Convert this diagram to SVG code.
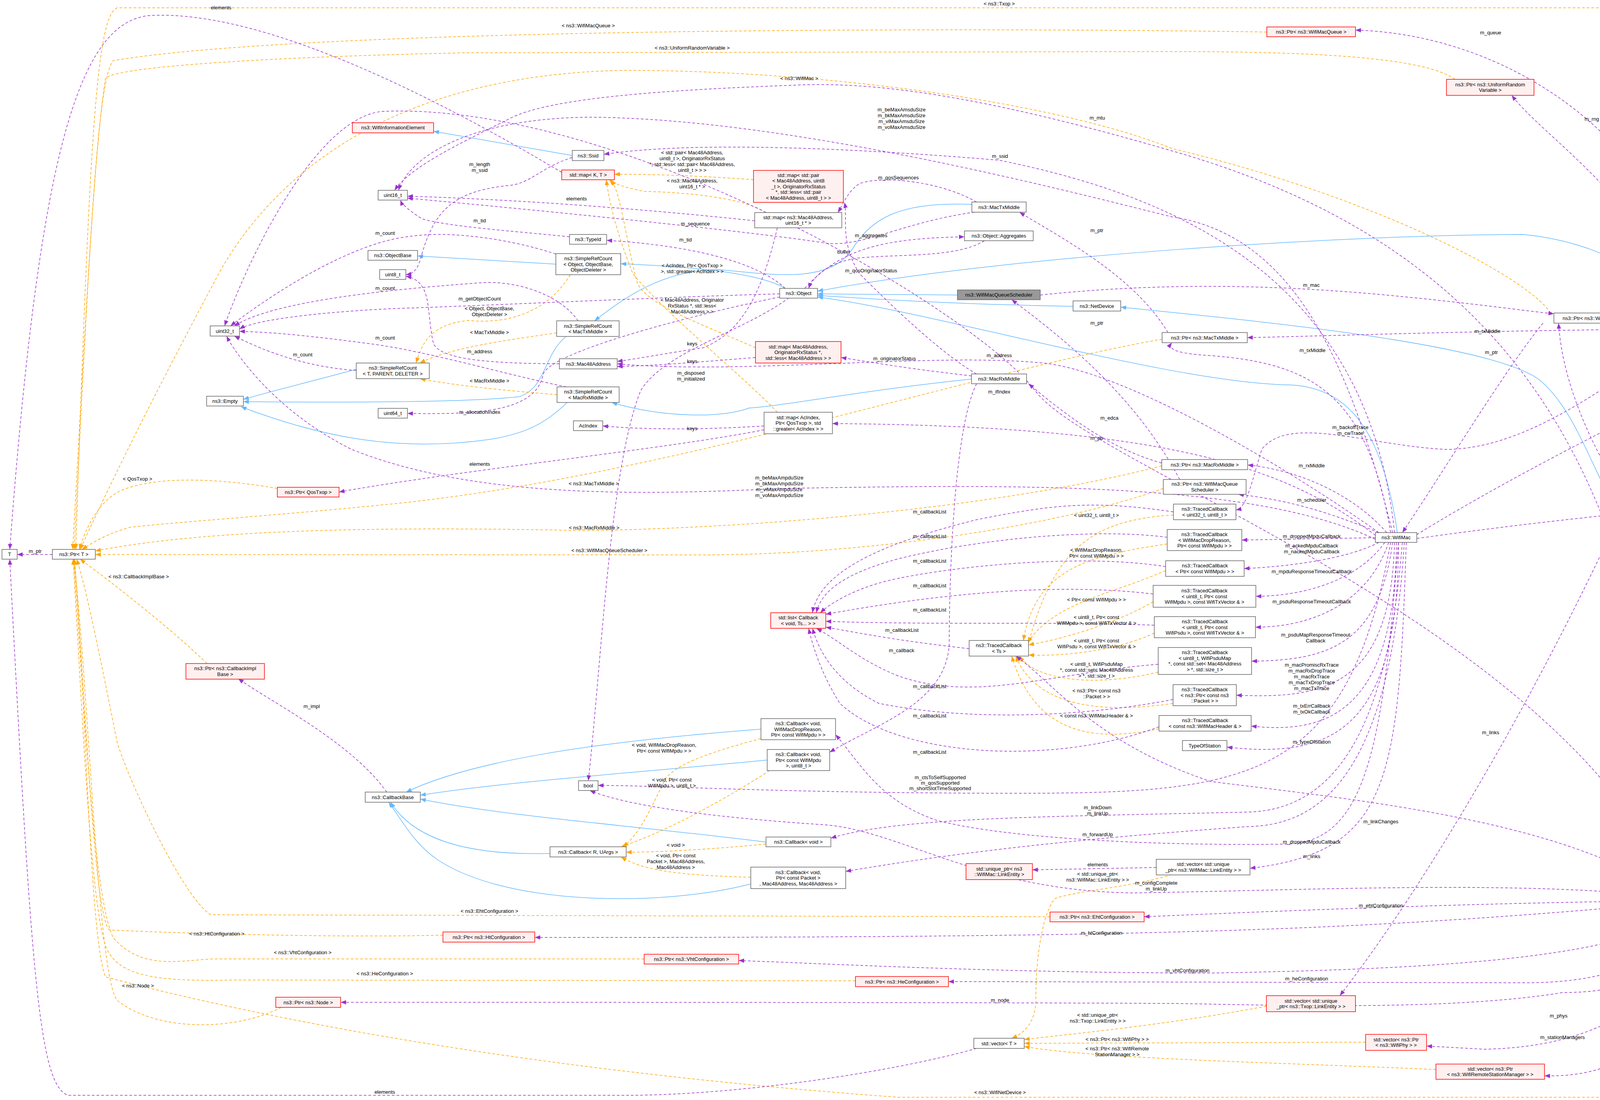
<svg xmlns="http://www.w3.org/2000/svg" width="4749" height="2815" viewBox="0 0 4749 2815">
<style>
.n{fill:#fff;stroke:#666;stroke-width:1.5}
.r{fill:#fff0f0;stroke:#f00;stroke-width:1.5}
.g{fill:#999;stroke:#666;stroke-width:1.5}
text{font-family:"Liberation Sans",Arial,sans-serif;font-size:13px;text-anchor:middle;fill:#000}
.p{fill:none;stroke:#9a32cd;stroke-width:1.5;stroke-dasharray:7,5;marker-end:url(#mp)}
.o{fill:none;stroke:#ffa500;stroke-width:1.5;stroke-dasharray:7,5;marker-end:url(#mo)}
.b{fill:none;stroke:#63b8ff;stroke-width:1.5;marker-end:url(#mb)}
</style>
<defs>
<marker id="mp" markerUnits="userSpaceOnUse" markerWidth="15" markerHeight="11" refX="14" refY="5.5" orient="auto"><path d="M0,0 L14,5.5 L0,11 z" fill="#9a32cd"/></marker>
<marker id="mo" markerUnits="userSpaceOnUse" markerWidth="15" markerHeight="11" refX="14" refY="5.5" orient="auto"><path d="M0,0 L14,5.5 L0,11 z" fill="#ffa500"/></marker>
<marker id="mb" markerUnits="userSpaceOnUse" markerWidth="15" markerHeight="11" refX="14" refY="5.5" orient="auto"><path d="M0,0 L14,5.5 L0,11 z" fill="#63b8ff"/></marker>
</defs>
<rect width="4749" height="2815" fill="#fff"/>
<g id="connectors">
<path class="b" d="M1465,398 L1110,336"/>
<path class="b" d="M1423,676 L1069,655"/>
<path class="b" d="M912,945 C800,975 700,1000 623,1022"/>
<path class="b" d="M1449,861 C1390,910 1400,990 1330,1015 C1200,1030 900,1030 623,1028"/>
<path class="b" d="M1452,1030 C1400,1080 1350,1110 1250,1125 C1000,1160 800,1110 617,1041"/>
<path class="b" d="M2010,738 C1930,690 1700,680 1589,675"/>
<path class="b" d="M2488,523 C2300,515 2230,560 2180,640 C2120,730 1960,700 1840,690 C1700,690 1600,760 1522,821"/>
<path class="b" d="M2487,970 C2200,1000 2000,1040 1918,1044 C1850,1070 1700,1070 1566,1030"/>
<path class="b" d="M2451,755 L2093,752"/>
<path class="b" d="M2747,784 C2500,780 2300,770 2093,756"/>
<path class="b" d="M4335,827 C4200,650 4000,610 3900,600 C3500,600 2600,650 2093,745"/>
<path class="b" d="M3577,1363 C3540,1100 3450,990 3300,985 C3000,980 2400,800 2093,760"/>
<path class="b" d="M4346,2291 C4350,1900 4330,1550 4200,1380 C4100,1300 4060,1080 3950,980 C3850,880 3200,820 2869,786"/>
<path class="b" d="M1948,1866 C1500,1900 1200,1950 1040,2027"/>
<path class="b" d="M1964,1945 C1600,1980 1300,2000 1076,2035"/>
<path class="b" d="M1961,2155 C1600,2110 1300,2090 1076,2045"/>
<path class="b" d="M1408,2184 C1200,2190 1060,2150 1000,2053"/>
<path class="b" d="M1922,2262 C1700,2320 1300,2320 1120,2200 C1060,2160 1030,2100 995,2053"/>

<path class="o" d="M4630,827 C4600,400 4500,20 4380,20 L300,20 C250,40 230,300 194,1406"/>
<path class="o" d="M3243,82 C2500,70 800,70 290,155 C250,200 230,600 190,1406"/>
<path class="o" d="M3725,203 C3650,150 3400,132 3000,132 L1200,135 C700,145 300,170 270,200 C240,400 220,800 186,1406"/>
<path class="o" d="M3970,801 C3900,700 3500,500 3000,380 C2700,260 2100,180 1600,180 C1000,190 700,450 560,700 C400,1000 300,1200 205,1406"/>
<path class="o" d="M710,1250 C600,1230 400,1210 300,1260 C250,1290 220,1350 203,1406"/>
<path class="o" d="M2975,868 C2500,950 1700,1220 1000,1290 C700,1320 400,1340 330,1350 C280,1365 250,1380 210,1406"/>
<path class="o" d="M2974,1192 C2600,1290 2000,1350 1500,1358 C900,1345 500,1360 244,1410"/>
<path class="o" d="M2978,1250 C2700,1350 2200,1420 1800,1420 L244,1419"/>
<path class="o" d="M530,1698 C450,1620 300,1500 205,1431"/>
<path class="o" d="M2688,2346 L540,2341 C470,2300 330,2000 300,1900 C260,1700 220,1500 196,1431"/>
<path class="o" d="M1134,2393 C900,2400 500,2390 280,2380 C240,2340 220,1800 190,1431"/>
<path class="o" d="M1649,2454 L540,2454 C450,2460 360,2480 290,2400 C240,2300 215,1800 188,1431"/>
<path class="o" d="M2190,2510 L600,2508 C400,2512 300,2500 270,2420 C230,2300 210,1800 187,1431"/>
<path class="o" d="M720,2578 C600,2640 400,2640 300,2560 C250,2500 230,1800 189,1431"/>
<path class="o" d="M4630,2317 C4600,2600 4450,2808 4200,2808 L2300,2808 C1500,2750 800,2640 270,2500 C230,2400 220,1800 191,1431"/>
<path class="o" d="M1929,460 C1800,450 1650,445 1573,446"/>
<path class="o" d="M1960,544 C1900,500 1700,490 1650,490 C1600,480 1570,470 1560,460"/>
<path class="o" d="M1990,1055 C1900,960 1700,800 1620,700 C1580,600 1560,520 1552,460"/>
<path class="o" d="M1934,890 C1800,830 1650,780 1630,720 C1600,600 1590,500 1565,460"/>
<path class="o" d="M1460,703 C1400,800 1300,830 1200,820 C1100,830 1080,880 1065,929"/>
<path class="o" d="M1425,852 C1300,870 1150,890 1075,929"/>
<path class="o" d="M1426,1010 C1300,1000 1150,985 1075,969"/>
<path class="o" d="M3004,1318 C2800,1330 2700,1400 2633,1645"/>
<path class="o" d="M2988,1392 C2800,1420 2650,1450 2620,1639"/>
<path class="o" d="M2984,1460 C2850,1520 2700,1540 2630,1645"/>
<path class="o" d="M2952,1540 C2850,1600 2700,1640 2633,1650"/>
<path class="o" d="M2955,1620 C2850,1670 2700,1680 2633,1676"/>
<path class="o" d="M2965,1720 C2800,1760 2650,1740 2610,1679"/>
<path class="o" d="M3003,1800 C2800,1830 2650,1800 2600,1679"/>
<path class="o" d="M2967,1865 C2800,1900 2650,1880 2590,1679"/>
<path class="o" d="M1948,1890 C1800,1930 1720,1960 1700,2000 C1660,2080 1640,2130 1595,2167"/>
<path class="o" d="M1970,1972 C1850,2050 1700,2130 1590,2167"/>
<path class="o" d="M1961,2160 C1800,2175 1700,2180 1603,2181"/>
<path class="o" d="M1922,2245 C1750,2240 1650,2230 1590,2193"/>
<path class="o" d="M3000,2238 C2900,2270 2750,2280 2700,2300 C2660,2350 2650,2500 2652,2560 C2650,2620 2620,2645 2590,2657"/>
<path class="o" d="M3242,2575 C3000,2620 2800,2640 2622,2660"/>
<path class="o" d="M3496,2667 L2622,2670"/>
<path class="o" d="M3676,2737 C3300,2720 2800,2710 2622,2678"/>

<path class="p" d="M134,1419 L44,1419"/>
<path class="p" d="M1438,441 C1200,300 700,20 380,40 C200,60 100,400 25,1406"/>
<path class="p" d="M2500,2683 C2300,2740 1900,2803 1600,2803 L175,2803 C100,2780 80,2500 25,1431"/>
<path class="p" d="M1465,403 C1380,430 1360,470 1300,475 C1150,490 1110,550 1080,650 C1070,690 1060,700 1039,703"/>
<path class="p" d="M1458,606 C1300,590 1150,580 1080,560 C1050,540 1030,525 1025,512"/>
<path class="p" d="M1423,650 C1300,610 1150,590 1050,605 C900,620 700,750 590,834"/>
<path class="p" d="M1480,821 C1430,750 1320,720 1240,723 C1000,740 700,770 600,834"/>
<path class="p" d="M1996,752 C1700,760 1300,780 1000,790 C800,800 650,820 613,842"/>
<path class="p" d="M912,948 C800,940 700,910 600,860"/>
<path class="p" d="M1450,990 C1300,960 1100,900 950,880 C800,860 700,850 613,848"/>
<path class="p" d="M1432,931 C1250,930 1130,920 1110,880 C1090,800 1110,720 1039,707"/>
<path class="p" d="M1932,565 C1600,530 1300,510 1043,502"/>
<path class="p" d="M2495,543 C2300,570 2200,640 2100,620 C1900,590 1400,540 1043,507"/>
<path class="p" d="M2500,517 C2400,460 2250,450 2200,470 C2170,490 2160,520 2145,544"/>
<path class="p" d="M2010,738 C1950,680 1800,630 1553,615"/>
<path class="p" d="M2060,738 C2150,640 2250,610 2469,606"/>
<path class="p" d="M2520,616 C2450,660 2300,650 2200,660 C2120,670 2080,710 2070,738"/>
<path class="p" d="M2020,762 C1900,850 1700,900 1640,1000 C1560,1200 1540,1700 1506,1998"/>
<path class="p" d="M2487,962 C2300,940 2250,930 2153,915"/>
<path class="p" d="M2500,957 C2400,900 2250,750 2200,700 C2150,620 2170,560 2162,518"/>
<path class="p" d="M1934,915 C1800,925 1700,935 1580,938"/>
<path class="p" d="M1990,583 C1950,750 1900,850 1800,890 C1700,905 1650,915 1580,925"/>
<path class="p" d="M1956,1090 C1800,1100 1650,1100 1543,1090"/>
<path class="p" d="M1956,1100 C1700,1150 1200,1200 868,1259"/>
<path class="p" d="M3530,1363 C3300,1200 2900,960 2680,930 C2400,900 1900,960 1580,931"/>
<path class="p" d="M4290,2291 C4000,1600 2800,1200 2650,1000 C2500,800 1600,260 980,285 C800,300 620,700 575,834"/>
<path class="p" d="M2974,1185 C2850,1150 2750,1080 2633,982"/>
<path class="p" d="M3521,1370 C3300,1200 3000,1090 2131,1084"/>
<path class="p" d="M3550,1363 C3450,1250 3300,1200 3194,1190"/>
<path class="p" d="M3530,1363 C3400,1310 3300,1280 3170,1265"/>
<path class="p" d="M3521,1376 L3179,1382"/>
<path class="p" d="M3530,1388 C3450,1430 3300,1450 3185,1455"/>
<path class="p" d="M3545,1388 C3480,1480 3350,1525 3215,1526"/>
<path class="p" d="M3555,1388 C3500,1550 3350,1605 3214,1605"/>
<path class="p" d="M3565,1388 C3530,1650 3400,1690 3204,1692"/>
<path class="p" d="M3570,1388 C3560,1750 3400,1790 3165,1779"/>
<path class="p" d="M3575,1388 C3570,1820 3400,1880 3203,1858"/>
<path class="p" d="M3580,1388 C3580,1880 3400,1940 3141,1912"/>
<path class="p" d="M4310,853 C4100,1000 3900,1150 3700,1150 C3500,1140 3300,1060 3230,1150 C3200,1250 3190,1300 3164,1305"/>
<path class="p" d="M2663,755 C3000,720 3300,730 3600,760 C3800,780 3900,795 3978,803"/>
<path class="p" d="M4308,835 L4164,818"/>
<path class="p" d="M4308,842 C3800,845 3400,860 3193,864"/>
<path class="p" d="M4548,840 L4395,840"/>
<path class="p" d="M4350,827 C4300,400 3900,90 3470,77"/>
<path class="p" d="M4340,827 C4200,500 3950,350 3870,244"/>
<path class="p" d="M3560,1363 C3500,1000 3350,930 3100,910 C3000,905 2990,890 3000,877"/>
<path class="p" d="M2990,851 C2900,700 2700,600 2610,543"/>
<path class="p" d="M3950,827 C3850,950 3700,1200 3590,1363"/>
<path class="p" d="M3020,1227 C2900,1000 2700,850 2590,767"/>
<path class="p" d="M3570,1363 C3500,700 3000,500 2558,410 C2200,380 1777,360 1546,395"/>
<path class="p" d="M3565,1363 C3450,900 3300,600 3000,555 C2700,480 2000,300 1500,300 C1200,305 1050,400 1020,487"/>
<path class="p" d="M3521,1380 C3200,1230 2600,1240 2000,1250 C1600,1270 1200,1270 900,1150 C700,1050 600,900 580,860"/>
<path class="p" d="M4320,2291 C4200,1500 4100,700 3000,386 C2600,270 2300,210 2059,217 C1700,230 1400,250 1300,306 C1150,380 1050,430 1010,487"/>
<path class="p" d="M3627,1368 C3900,1200 4300,1000 4630,853"/>
<path class="p" d="M3627,1378 C3900,1340 4100,1320 4180,1312 C4350,1350 4600,1800 4630,2291"/>
<path class="p" d="M4370,2291 C4340,1800 4250,1400 4200,1330 C4100,1200 4000,1000 3990,827"/>
<path class="p" d="M3580,1388 C3540,1900 3500,2150 3300,2160 C3000,2165 2600,2150 2400,2100 C2250,2050 2200,1950 2139,1880"/>
<path class="p" d="M2500,982 C2440,1100 2430,1500 2430,1650 C2420,1800 2250,1850 2124,1925"/>
<path class="p" d="M3560,1388 C3450,2000 3200,2030 2600,2030 C2000,2030 1700,2010 1531,2010"/>
<path class="p" d="M4279,2297 C3900,2250 3300,2280 2900,2285 C2500,2280 2300,2120 2100,2110 C1800,2090 1600,2060 1510,2023"/>
<path class="p" d="M3590,1388 C3550,1900 3400,2070 3200,2078 C2700,2090 2300,2090 2127,2145"/>
<path class="p" d="M3595,1388 C3560,1950 3400,2110 3200,2115 C2700,2150 2400,2190 2165,2230"/>
<path class="p" d="M3600,1388 C3580,2000 3560,2180 3200,2222"/>
<path class="p" d="M2960,2220 L2643,2226"/>
<path class="p" d="M4279,2305 C3800,2310 3300,2330 2929,2346"/>
<path class="p" d="M4279,2310 C3500,2380 3000,2400 1369,2399"/>
<path class="p" d="M4330,2317 C4200,2450 3700,2480 3100,2490 C2600,2490 2200,2470 1891,2458"/>
<path class="p" d="M4340,2317 C4250,2450 4150,2515 3900,2515 L2428,2512"/>
<path class="p" d="M4350,2317 C4250,2480 4200,2540 4000,2540 C3700,2590 3200,2570 3000,2568 C2500,2565 1500,2565 872,2565"/>
<path class="p" d="M4340,853 C4100,1500 3700,2200 3430,2548"/>
<path class="p" d="M4360,2317 C4300,2550 4100,2680 3800,2685 L3652,2677"/>
<path class="p" d="M4370,2317 C4330,2600 4200,2760 3954,2753"/>
<path class="p" d="M4280,2290 C4000,2100 3500,2050 3100,2000 C2800,1900 2700,1750 2601,1679"/>
<path class="p" d="M3004,1310 C2800,1280 2700,1290 2500,1330 C2300,1380 2100,1450 2080,1568"/>
<path class="p" d="M2988,1375 C2800,1350 2500,1380 2300,1430 C2150,1470 2100,1520 2090,1568"/>
<path class="p" d="M2984,1450 C2800,1420 2500,1440 2300,1480 C2200,1500 2130,1540 2100,1568"/>
<path class="p" d="M2952,1520 C2700,1490 2400,1520 2114,1572"/>
<path class="p" d="M2955,1600 C2700,1590 2400,1600 2114,1590"/>
<path class="p" d="M2481,1660 C2300,1640 2200,1620 2114,1605"/>
<path class="p" d="M2965,1700 C2700,1720 2500,1800 2300,1730 C2200,1690 2150,1640 2090,1608"/>
<path class="p" d="M3003,1790 C2800,1830 2500,1850 2250,1800 C2150,1750 2100,1680 2080,1608"/>
<path class="p" d="M2967,1860 C2700,1960 2300,1940 2150,1800 C2100,1720 2080,1650 2070,1608"/>
<path class="p" d="M990,2027 C900,1900 700,1800 610,1737"/>
<path class="p" d="M1996,760 C1800,800 1400,900 1390,960 C1370,1060 1200,1060 1043,1058"/>

<text x="2558" y="14">&lt; ns3::Txop &gt;</text>
<text x="1506" y="70">&lt; ns3::WifiMacQueue &gt;</text>
<text x="1772" y="127">&lt; ns3::UniformRandomVariable &gt;</text>
<text x="2046" y="205">&lt; ns3::WifiMac &gt;</text>
<text x="352" y="1230">&lt; QosTxop &gt;</text>
<text x="1520" y="1242">&lt; ns3::MacTxMiddle &gt;</text>
<text x="1521" y="1355">&lt; ns3::MacRxMiddle &gt;</text>
<text x="1560" y="1413">&lt; ns3::WifiMacQueueScheduler &gt;</text>
<text x="355" y="1480">&lt; ns3::CallbackImplBase &gt;</text>
<text x="1253" y="2336">&lt; ns3::EhtConfiguration &gt;</text>
<text x="555" y="2394">&lt; ns3::HtConfiguration &gt;</text>
<text x="775" y="2442">&lt; ns3::VhtConfiguration &gt;</text>
<text x="985" y="2496">&lt; ns3::HeConfiguration &gt;</text>
<text x="353" y="2527">&lt; ns3::Node &gt;</text>
<text x="2560" y="2800">&lt; ns3::WifiNetDevice &gt;</text>
<text x="1772" y="395">&lt; std::pair&lt; Mac48Address,</text>
<text x="1772" y="410">uint8_t &gt;, OriginatorRxStatus</text>
<text x="1772" y="425">*, std::less&lt; std::pair&lt; Mac48Address,</text>
<text x="1772" y="440">uint8_t &gt; &gt; &gt;</text>
<text x="1772" y="467">&lt; ns3::Mac48Address,</text>
<text x="1772" y="482">uint16_t * &gt;</text>
<text x="1772" y="684">&lt; AcIndex, Ptr&lt; QosTxop &gt;</text>
<text x="1772" y="699">&gt;, std::greater&lt; AcIndex &gt; &gt;</text>
<text x="1772" y="772">&lt; Mac48Address, Originator</text>
<text x="1772" y="787">RxStatus *, std::less&lt;</text>
<text x="1772" y="802">Mac48Address &gt; &gt;</text>
<text x="1253" y="794">&lt; Object, ObjectBase,</text>
<text x="1253" y="809">ObjectDeleter &gt;</text>
<text x="1253" y="855">&lt; MacTxMiddle &gt;</text>
<text x="1253" y="979">&lt; MacRxMiddle &gt;</text>
<text x="2807" y="1323">&lt; uint32_t, uint8_t &gt;</text>
<text x="2807" y="1412">&lt; WifiMacDropReason,</text>
<text x="2807" y="1427">Ptr&lt; const WifiMpdu &gt; &gt;</text>
<text x="2807" y="1539">&lt; Ptr&lt; const WifiMpdu &gt; &gt;</text>
<text x="2807" y="1584">&lt; uint8_t, Ptr&lt; const</text>
<text x="2807" y="1599">WifiMpdu &gt;, const WifiTxVector &amp; &gt;</text>
<text x="2807" y="1644">&lt; uint8_t, Ptr&lt; const</text>
<text x="2807" y="1659">WifiPsdu &gt;, const WifiTxVector &amp; &gt;</text>
<text x="2807" y="1704">&lt; uint8_t, WifiPsduMap</text>
<text x="2807" y="1719">*, const std::set&lt; Mac48Address</text>
<text x="2807" y="1734">&gt; *, std::size_t &gt;</text>
<text x="2807" y="1772">&lt; ns3::Ptr&lt; const ns3</text>
<text x="2807" y="1787">::Packet &gt; &gt;</text>
<text x="2807" y="1836">&lt; const ns3::WifiMacHeader &amp; &gt;</text>
<text x="1700" y="1911">&lt; void, WifiMacDropReason,</text>
<text x="1700" y="1926">Ptr&lt; const WifiMpdu &gt; &gt;</text>
<text x="1720" y="2000">&lt; void, Ptr&lt; const</text>
<text x="1720" y="2015">WifiMpdu &gt;, uint8_t &gt;</text>
<text x="1730" y="2167">&lt; void &gt;</text>
<text x="1730" y="2194">&lt; void, Ptr&lt; const</text>
<text x="1730" y="2209">Packet &gt;, Mac48Address,</text>
<text x="1730" y="2224">Mac48Address &gt;</text>
<text x="2810" y="2241">&lt; std::unique_ptr&lt;</text>
<text x="2810" y="2256">ns3::WifiMac::LinkEntity &gt; &gt;</text>
<text x="2810" y="2602">&lt; std::unique_ptr&lt;</text>
<text x="2810" y="2617">ns3::Txop::LinkEntity &gt; &gt;</text>
<text x="2860" y="2664">&lt; ns3::Ptr&lt; ns3::WifiPhy &gt; &gt;</text>
<text x="2860" y="2688">&lt; ns3::Ptr&lt; ns3::WifiRemote</text>
<text x="2860" y="2703">StationManager &gt; &gt;</text>

<text x="90" y="1415">m_ptr</text>
<text x="566" y="24">elements</text>
<text x="985" y="2799">elements</text>
<text x="1228" y="425">m_length</text>
<text x="1228" y="440">m_ssid</text>
<text x="1228" y="569">m_tid</text>
<text x="986" y="601">m_count</text>
<text x="986" y="742">m_count</text>
<text x="1228" y="769">m_getObjectCount</text>
<text x="775" y="912">m_count</text>
<text x="986" y="869">m_count</text>
<text x="1228" y="904">m_address</text>
<text x="1476" y="513">elements</text>
<text x="1780" y="577">m_sequence</text>
<text x="2300" y="459">m_qosSequences</text>
<text x="1755" y="618">m_tid</text>
<text x="2230" y="607">m_aggregates</text>
<text x="2160" y="649">buffer</text>
<text x="1769" y="959">m_disposed</text>
<text x="1769" y="974">m_initialized</text>
<text x="2290" y="922">m_originatorStatus</text>
<text x="2230" y="697">m_qosOriginatorStatus</text>
<text x="1772" y="929">keys</text>
<text x="1772" y="884">keys</text>
<text x="1772" y="1101">keys</text>
<text x="1228" y="1192">elements</text>
<text x="2558" y="914">m_address</text>
<text x="2558" y="1007">m_ifIndex</text>
<text x="2808" y="1126">m_ptr</text>
<text x="2840" y="1074">m_edca</text>
<text x="3358" y="1196">m_rxMiddle</text>
<text x="3358" y="1284">m_scheduler</text>
<text x="3358" y="1377">m_droppedMpduCallback</text>
<text x="3358" y="1401">m_ackedMpduCallback</text>
<text x="3358" y="1416">m_nackedMpduCallback</text>
<text x="3358" y="1467">m_mpduResponseTimeoutCallback</text>
<text x="3358" y="1544">m_psduResponseTimeoutCallback</text>
<text x="3368" y="1629">m_psduMapResponseTimeout</text>
<text x="3368" y="1644">Callback</text>
<text x="3358" y="1706">m_macPromiscRxTrace</text>
<text x="3358" y="1721">m_macRxDropTrace</text>
<text x="3358" y="1736">m_macRxTrace</text>
<text x="3358" y="1751">m_macTxDropTrace</text>
<text x="3358" y="1766">m_macTxTrace</text>
<text x="3358" y="1811">m_txErrCallback</text>
<text x="3358" y="1826">m_txOkCallback</text>
<text x="3358" y="1903">m_typeOfStation</text>
<text x="3457" y="1098">m_backoffTrace</text>
<text x="3457" y="1113">m_cwTrace</text>
<text x="3357" y="734">m_mac</text>
<text x="4100" y="824">m_mac</text>
<text x="3808" y="852">m_txMiddle</text>
<text x="4475" y="838">m_ptr</text>
<text x="3816" y="88">m_queue</text>
<text x="4075" y="309">m_rng</text>
<text x="3360" y="901">m_txMiddle</text>
<text x="2808" y="594">m_ptr</text>
<text x="3818" y="906">m_ptr</text>
<text x="2808" y="831">m_ptr</text>
<text x="2560" y="404">m_ssid</text>
<text x="2308" y="285">m_beMaxAmsduSize</text>
<text x="2308" y="300">m_bkMaxAmsduSize</text>
<text x="2308" y="315">m_viMaxAmsduSize</text>
<text x="2308" y="330">m_voMaxAmsduSize</text>
<text x="1995" y="1227">m_beMaxAmpduSize</text>
<text x="1995" y="1242">m_bkMaxAmpduSize</text>
<text x="1995" y="1257">m_viMaxAmpduSize</text>
<text x="1995" y="1272">m_voMaxAmpduSize</text>
<text x="2809" y="306">m_mtu</text>
<text x="4223" y="1062">m_txop</text>
<text x="4222" y="1318">m_device</text>
<text x="4222" y="1344">m_mac</text>
<text x="3358" y="2159">m_droppedMpduCallback</text>
<text x="2308" y="1669">m_callback</text>
<text x="2407" y="1994">m_ctsToSelfSupported</text>
<text x="2407" y="2008">m_qosSupported</text>
<text x="2407" y="2022">m_shortSlotTimeSupported</text>
<text x="2960" y="2264">m_configComplete</text>
<text x="2960" y="2279">m_linkUp</text>
<text x="2810" y="2071">m_linkDown</text>
<text x="2810" y="2086">m_linkUp</text>
<text x="2810" y="2140">m_forwardUp</text>
<text x="3358" y="2196">m_links</text>
<text x="2810" y="2217">elements</text>
<text x="3535" y="2322">m_ehtConfiguration</text>
<text x="2820" y="2392">m_htConfiguration</text>
<text x="3040" y="2488">m_vhtConfiguration</text>
<text x="3345" y="2509">m_heConfiguration</text>
<text x="2560" y="2564">m_node</text>
<text x="3816" y="1879">m_links</text>
<text x="3990" y="2604">m_phys</text>
<text x="4000" y="2659">m_stationManagers</text>
<text x="3535" y="2107">m_linkChanges</text>
<text x="2380" y="1314">m_callbackList</text>
<text x="2380" y="1377">m_callbackList</text>
<text x="2380" y="1440">m_callbackList</text>
<text x="2380" y="1503">m_callbackList</text>
<text x="2380" y="1565">m_callbackList</text>
<text x="2309" y="1617">m_callbackList</text>
<text x="2380" y="1761">m_callbackList</text>
<text x="2380" y="1836">m_callbackList</text>
<text x="2380" y="1929">m_callbackList</text>
<text x="798" y="1812">m_impl</text>
<text x="1228" y="1059">m_allocationIndex</text>
</g>

<g id="T"><rect class="n" x="5" y="1406" width="39" height="25"/><text x="24.5" y="1423">T</text></g>
<g id="PtrT"><rect class="n" x="134" y="1406" width="110" height="25"/><text x="189" y="1423">ns3::Ptr&lt; T &gt;</text></g>
<g id="WifiInformationElement"><rect class="r" x="902" y="314" width="208" height="26"/><text x="1006" y="331">ns3::WifiInformationElement</text></g>
<g id="Ssid"><rect class="n" x="1465" y="385" width="81" height="26"/><text x="1505.5" y="402.5">ns3::Ssid</text></g>
<g id="mapKT"><rect class="r" x="1438" y="435" width="135" height="25"/><text x="1505.5" y="452">std::map&lt; K, T &gt;</text></g>
<g id="uint16"><rect class="n" x="968" y="487" width="75" height="25"/><text x="1005.5" y="504">uint16_t</text></g>
<g id="TypeId"><rect class="n" x="1458" y="600" width="95" height="25"/><text x="1505.5" y="617">ns3::TypeId</text></g>
<g id="ObjectBase"><rect class="n" x="942" y="641" width="127" height="25"/><text x="1005.5" y="658">ns3::ObjectBase</text></g>
<g id="SRCObject"><rect class="n" x="1423" y="649" width="166" height="54"/><text x="1506" y="666">ns3::SimpleRefCount</text><text x="1506" y="680.5">&lt; Object, ObjectBase,</text><text x="1506" y="695">ObjectDeleter &gt;</text></g>
<g id="uint8"><rect class="n" x="972" y="690" width="67" height="25"/><text x="1005.5" y="707">uint8_t</text></g>
<g id="uint32"><rect class="n" x="538" y="834" width="75" height="26"/><text x="575.5" y="851.5">uint32_t</text></g>
<g id="SRCMacTx"><rect class="n" x="1425" y="821" width="160" height="40"/><text x="1505" y="838.5">ns3::SimpleRefCount</text><text x="1505" y="853">&lt; MacTxMiddle &gt;</text></g>
<g id="Mac48Address"><rect class="n" x="1432" y="918" width="148" height="26"/><text x="1506" y="935.5">ns3::Mac48Address</text></g>
<g id="SRCT"><rect class="n" x="912" y="929" width="187" height="40"/><text x="1005.5" y="946.25">ns3::SimpleRefCount</text><text x="1005.5" y="960.75">&lt; T, PARENT, DELETER &gt;</text></g>
<g id="Empty"><rect class="n" x="529" y="1014" width="94" height="25"/><text x="576" y="1031">ns3::Empty</text></g>
<g id="uint64"><rect class="n" x="968" y="1045" width="75" height="25"/><text x="1005.5" y="1062">uint64_t</text></g>
<g id="AcIndex"><rect class="n" x="1468" y="1077" width="75" height="25"/><text x="1505.5" y="1094">AcIndex</text></g>
<g id="SRCMacRx"><rect class="n" x="1426" y="990" width="159" height="40"/><text x="1505.5" y="1007.25">ns3::SimpleRefCount</text><text x="1505.5" y="1021.75">&lt; MacRxMiddle &gt;</text></g>
<g id="PtrQosTxop"><rect class="r" x="710" y="1247" width="158" height="25"/><text x="789" y="1264">ns3::Ptr&lt; QosTxop &gt;</text></g>
<g id="PtrCallbackImplBase"><rect class="r" x="476" y="1698" width="201" height="40"/><text x="576.5" y="1715.25">ns3::Ptr&lt; ns3::CallbackImpl</text><text x="576.5" y="1729.75">Base &gt;</text></g>
<g id="mapPair"><rect class="r" x="1929" y="436" width="230" height="82"/><text x="2044" y="452.5">std::map&lt; std::pair</text><text x="2044" y="467">&lt; Mac48Address, uint8</text><text x="2044" y="481.5">_t &gt;, OriginatorRxStatus</text><text x="2044" y="496">*, std::less&lt; std::pair</text><text x="2044" y="510.5">&lt; Mac48Address, uint8_t &gt; &gt;</text></g>
<g id="mapU16"><rect class="n" x="1932" y="544" width="223" height="39"/><text x="2043.5" y="560.75">std::map&lt; ns3::Mac48Address,</text><text x="2043.5" y="575.25">uint16_t * &gt;</text></g>
<g id="MacTxMiddle"><rect class="n" x="2488" y="517" width="139" height="26"/><text x="2557.5" y="534.5">ns3::MacTxMiddle</text></g>
<g id="Aggregates"><rect class="n" x="2469" y="591" width="176" height="25"/><text x="2557" y="608">ns3::Object::Aggregates</text></g>
<g id="Object"><rect class="n" x="1996" y="738" width="97" height="25"/><text x="2044.5" y="755">ns3::Object</text></g>
<g id="WifiMacQueueScheduler"><rect class="g" x="2451" y="742" width="212" height="25"/><text x="2557" y="759">ns3::WifiMacQueueScheduler</text></g>
<g id="NetDevice"><rect class="n" x="2747" y="770" width="122" height="26"/><text x="2808" y="787.5">ns3::NetDevice</text></g>
<g id="mapOrig"><rect class="r" x="1934" y="874" width="219" height="55"/><text x="2043.5" y="891.5">std::map&lt; Mac48Address,</text><text x="2043.5" y="906">OriginatorRxStatus *,</text><text x="2043.5" y="920.5">std::less&lt; Mac48Address &gt; &gt;</text></g>
<g id="MacRxMiddle"><rect class="n" x="2487" y="957" width="141" height="25"/><text x="2557.5" y="974">ns3::MacRxMiddle</text></g>
<g id="mapAcIndex"><rect class="n" x="1956" y="1055" width="175" height="55"/><text x="2043.5" y="1072.5">std::map&lt; AcIndex,</text><text x="2043.5" y="1087">Ptr&lt; QosTxop &gt;, std</text><text x="2043.5" y="1101.5">::greater&lt; AcIndex &gt; &gt;</text></g>
<g id="PtrWifiMacQueue"><rect class="r" x="3243" y="69" width="227" height="25"/><text x="3356.5" y="86">ns3::Ptr&lt; ns3::WifiMacQueue &gt;</text></g>
<g id="PtrUniformRandomVariable"><rect class="r" x="3703" y="203" width="224" height="41"/><text x="3815" y="220.75">ns3::Ptr&lt; ns3::UniformRandom</text><text x="3815" y="235.25">Variable &gt;</text></g>
<g id="PtrWifiMac"><rect class="n" x="3978" y="801" width="186" height="26"/><text x="4071" y="818.5">ns3::Ptr&lt; ns3::WifiMac &gt;</text></g>
<g id="Txop"><rect class="n" x="4308" y="827" width="87" height="26"/><text x="4351.5" y="844.5">ns3::Txop</text></g>
<g id="PtrTxop"><rect class="n" x="4548" y="827" width="164" height="26"/><text x="4630" y="844.5">ns3::Ptr&lt; ns3::Txop &gt;</text></g>
<g id="PtrMacTxMiddle"><rect class="n" x="2975" y="851" width="218" height="26"/><text x="3084" y="868.5">ns3::Ptr&lt; ns3::MacTxMiddle &gt;</text></g>
<g id="PtrMacRxMiddle"><rect class="n" x="2974" y="1176" width="220" height="26"/><text x="3084" y="1193.5">ns3::Ptr&lt; ns3::MacRxMiddle &gt;</text></g>
<g id="PtrWifiMacQueueScheduler"><rect class="n" x="2978" y="1227" width="212" height="38"/><text x="3084" y="1243.25">ns3::Ptr&lt; ns3::WifiMacQueue</text><text x="3084" y="1257.75">Scheduler &gt;</text></g>
<g id="TC1"><rect class="n" x="3004" y="1290" width="160" height="40"/><text x="3084" y="1307.25">ns3::TracedCallback</text><text x="3084" y="1321.75">&lt; uint32_t, uint8_t &gt;</text></g>
<g id="TC2"><rect class="n" x="2988" y="1355" width="191" height="54"/><text x="3083.5" y="1372">ns3::TracedCallback</text><text x="3083.5" y="1386.5">&lt; WifiMacDropReason,</text><text x="3083.5" y="1401">Ptr&lt; const WifiMpdu &gt; &gt;</text></g>
<g id="TC3"><rect class="n" x="2984" y="1435" width="201" height="40"/><text x="3084.5" y="1452.25">ns3::TracedCallback</text><text x="3084.5" y="1466.75">&lt; Ptr&lt; const WifiMpdu &gt; &gt;</text></g>
<g id="TC4"><rect class="n" x="2952" y="1498" width="263" height="56"/><text x="3083.5" y="1516">ns3::TracedCallback</text><text x="3083.5" y="1530.5">&lt; uint8_t, Ptr&lt; const</text><text x="3083.5" y="1545">WifiMpdu &gt;, const WifiTxVector &amp; &gt;</text></g>
<g id="TC5"><rect class="n" x="2955" y="1578" width="259" height="54"/><text x="3084.5" y="1595">ns3::TracedCallback</text><text x="3084.5" y="1609.5">&lt; uint8_t, Ptr&lt; const</text><text x="3084.5" y="1624">WifiPsdu &gt;, const WifiTxVector &amp; &gt;</text></g>
<g id="TC6"><rect class="n" x="2965" y="1657" width="239" height="69"/><text x="3084.5" y="1674.25">ns3::TracedCallback</text><text x="3084.5" y="1688.75">&lt; uint8_t, WifiPsduMap</text><text x="3084.5" y="1703.25">*, const std::set&lt; Mac48Address</text><text x="3084.5" y="1717.75">&gt; *, std::size_t &gt;</text></g>
<g id="TC7"><rect class="n" x="3003" y="1752" width="162" height="54"/><text x="3084" y="1769">ns3::TracedCallback</text><text x="3084" y="1783.5">&lt; ns3::Ptr&lt; const ns3</text><text x="3084" y="1798">::Packet &gt; &gt;</text></g>
<g id="TC8"><rect class="n" x="2967" y="1831" width="236" height="40"/><text x="3085" y="1848.25">ns3::TracedCallback</text><text x="3085" y="1862.75">&lt; const ns3::WifiMacHeader &amp; &gt;</text></g>
<g id="TypeOfStation"><rect class="n" x="3027" y="1895" width="114" height="26"/><text x="3084" y="1912.5">TypeOfStation</text></g>
<g id="WifiMac"><rect class="n" x="3521" y="1363" width="106" height="25"/><text x="3574" y="1380">ns3::WifiMac</text></g>
<g id="listCallback"><rect class="r" x="1973" y="1568" width="141" height="40"/><text x="2043.5" y="1585.25">std::list&lt; Callback</text><text x="2043.5" y="1599.75">&lt; void, Ts... &gt; &gt;</text></g>
<g id="TracedCallbackTs"><rect class="n" x="2481" y="1639" width="152" height="40"/><text x="2557" y="1656.25">ns3::TracedCallback</text><text x="2557" y="1670.75">&lt; Ts &gt;</text></g>
<g id="CbDrop"><rect class="n" x="1948" y="1839" width="191" height="54"/><text x="2043.5" y="1856">ns3::Callback&lt; void,</text><text x="2043.5" y="1870.5">WifiMacDropReason,</text><text x="2043.5" y="1885">Ptr&lt; const WifiMpdu &gt; &gt;</text></g>
<g id="CbMpdu"><rect class="n" x="1964" y="1918" width="160" height="54"/><text x="2044" y="1935">ns3::Callback&lt; void,</text><text x="2044" y="1949.5">Ptr&lt; const WifiMpdu</text><text x="2044" y="1964">&gt;, uint8_t &gt;</text></g>
<g id="bool"><rect class="n" x="1481" y="1998" width="50" height="25"/><text x="1506" y="2015">bool</text></g>
<g id="CallbackBase"><rect class="n" x="935" y="2027" width="141" height="26"/><text x="1005.5" y="2044.5">ns3::CallbackBase</text></g>
<g id="CallbackRUArgs"><rect class="n" x="1408" y="2167" width="195" height="26"/><text x="1505.5" y="2184.5">ns3::Callback&lt; R, UArgs &gt;</text></g>
<g id="CbVoid"><rect class="n" x="1961" y="2142" width="166" height="25"/><text x="2044" y="2159">ns3::Callback&lt; void &gt;</text></g>
<g id="CbPacket"><rect class="n" x="1922" y="2219" width="243" height="55"/><text x="2043.5" y="2236.5">ns3::Callback&lt; void,</text><text x="2043.5" y="2251">Ptr&lt; const Packet &gt;</text><text x="2043.5" y="2265.5">, Mac48Address, Mac48Address &gt;</text></g>
<g id="uniqueLinkEntity"><rect class="r" x="2473" y="2210" width="170" height="41"/><text x="2558" y="2227.75">std::unique_ptr&lt; ns3</text><text x="2558" y="2242.25">::WifiMac::LinkEntity &gt;</text></g>
<g id="vecWifiMacLink"><rect class="n" x="2960" y="2199" width="240" height="40"/><text x="3080" y="2216.25">std::vector&lt; std::unique</text><text x="3080" y="2230.75">_ptr&lt; ns3::WifiMac::LinkEntity &gt; &gt;</text></g>
<g id="PtrEht"><rect class="r" x="2688" y="2334" width="241" height="25"/><text x="2808.5" y="2351">ns3::Ptr&lt; ns3::EhtConfiguration &gt;</text></g>
<g id="PtrHt"><rect class="r" x="1134" y="2385" width="235" height="26"/><text x="1251.5" y="2402.5">ns3::Ptr&lt; ns3::HtConfiguration &gt;</text></g>
<g id="PtrVht"><rect class="r" x="1649" y="2442" width="242" height="25"/><text x="1770" y="2459">ns3::Ptr&lt; ns3::VhtConfiguration &gt;</text></g>
<g id="PtrHe"><rect class="r" x="2190" y="2499" width="238" height="26"/><text x="2309" y="2516.5">ns3::Ptr&lt; ns3::HeConfiguration &gt;</text></g>
<g id="PtrNode"><rect class="r" x="706" y="2552" width="166" height="26"/><text x="789" y="2569.5">ns3::Ptr&lt; ns3::Node &gt;</text></g>
<g id="vectorT"><rect class="n" x="2493" y="2657" width="129" height="26"/><text x="2557.5" y="2674.5">std::vector&lt; T &gt;</text></g>
<g id="WifiNetDevice"><rect class="r" x="4279" y="2291" width="148" height="26"/><text x="4353" y="2308.5">ns3::WifiNetDevice</text></g>
<g id="PtrWifiNetDevice"><rect class="n" x="4517" y="2291" width="226" height="26"/><text x="4630" y="2308.5">ns3::Ptr&lt; ns3::WifiNetDevice &gt;</text></g>
<g id="vecTxopLink"><rect class="r" x="3242" y="2548" width="228" height="41"/><text x="3356" y="2565.75">std::vector&lt; std::unique</text><text x="3356" y="2580.25">_ptr&lt; ns3::Txop::LinkEntity &gt; &gt;</text></g>
<g id="vecWifiPhy"><rect class="r" x="3496" y="2647" width="156" height="41"/><text x="3574" y="2664.75">std::vector&lt; ns3::Ptr</text><text x="3574" y="2679.25">&lt; ns3::WifiPhy &gt; &gt;</text></g>
<g id="vecRSM"><rect class="r" x="3676" y="2723" width="278" height="39"/><text x="3815" y="2739.75">std::vector&lt; ns3::Ptr</text><text x="3815" y="2754.25">&lt; ns3::WifiRemoteStationManager &gt; &gt;</text></g>
</svg>
